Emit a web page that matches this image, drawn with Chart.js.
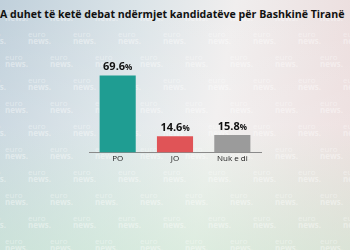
<!DOCTYPE html>
<html><head><meta charset="utf-8">
<script src="https://cdn.jsdelivr.net/npm/chart.js@4/dist/chart.umd.min.js"></script>
<style>
html,body{margin:0;padding:0;}
body{width:350px;height:250px;overflow:hidden;position:relative;
background:linear-gradient(100deg,#c0d0db 0%,#dbe4e8 35%,#f0eeee 60%,#ebdada 100%);}
#bg2{position:absolute;left:0;top:0;width:350px;height:250px;
background:linear-gradient(180deg,rgba(255,255,255,0) 0%,rgba(255,255,255,0.15) 50%,rgba(205,235,212,0.55) 100%);}
#wm{position:absolute;left:0;top:0;width:350px;height:250px;}
.w{position:absolute;font-family:"Open Sans",sans-serif;color:rgba(255,255,255,0.4);font-size:8px;line-height:7px;}
.w b{font-weight:700;}
#title{position:absolute;left:0;top:7px;white-space:nowrap;font-family:"Open Sans","DejaVu Sans",sans-serif;font-weight:700;font-size:10.6px;color:#111;}
#wrap{position:absolute;left:0;top:0;width:350px;height:250px;}
</style></head>
<body>
<div id="bg2"></div>
<div id="wm"></div>
<div id="title">A duhet të ketë debat ndërmjet kandidatëve për Bashkinë Tiranë</div>
<div id="wrap"><canvas id="c" width="350" height="250"></canvas></div>
<script>
const categories = ["PO", "JO", "Nuk e di"];
const values = [69.6, 14.6, 15.8];
const barColors = ["#1f9d92", "#e05457", "#9b9b9b"];

// decorative watermark
(function(){
  const wm = document.getElementById('wm');
  let html = '';
  for (let r = 0; r < 11; r++) {
    const y = 7 + r * 23;
    const off = (r % 2) ? 0 : 22;
    for (let x = -17 + off; x < 360; x += 45) {
      html += '<div class="w" style="left:' + x + 'px;top:' + y + 'px">euro<br><b>news.</b></div>';
    }
  }
  wm.innerHTML = html;
})();

const labelPlugin = {
  id: 'valLabels',
  afterDatasetsDraw(chart) {
    const ctx = chart.ctx;
    const meta = chart.getDatasetMeta(0);
    meta.data.forEach((bar, i) => {
      const num = values[i].toFixed(1);
      ctx.save();
      ctx.fillStyle = '#111';
      ctx.textBaseline = 'alphabetic';
      ctx.font = 'bold 11px "Open Sans", sans-serif';
      const w1 = ctx.measureText(num).width;
      ctx.font = 'bold 8px "Open Sans", sans-serif';
      const w2 = ctx.measureText('%').width;
      const x0 = bar.x - (w1 + w2) / 2;
      const y = bar.y - 5;
      ctx.font = 'bold 11px "Open Sans", sans-serif';
      ctx.fillText(num, x0, y);
      ctx.font = 'bold 8px "Open Sans", sans-serif';
      ctx.fillText('%', x0 + w1, y);
      ctx.restore();
    });
  }
};

new Chart(document.getElementById('c'), {
  type: 'bar',
  data: {
    labels: categories,
    datasets: [{ data: values, backgroundColor: barColors, borderWidth: 0,
      categoryPercentage: 1.0, barPercentage: 0.63 }]
  },
  options: {
    responsive: false,
    animation: false,
    layout: { padding: { left: 89, right: 89, top: 64, bottom: 84 } },
    plugins: { legend: { display: false }, tooltip: { enabled: false } },
    scales: {
      x: {
        grid: { display: false, drawTicks: false },
        border: { display: true, color: '#8a8a8a', width: 1 },
        ticks: { color: '#222', font: { family: '"Open Sans", sans-serif', size: 8 }, padding: 2 }
      },
      y: { display: false, min: 0, max: 80 }
    }
  },
  plugins: [labelPlugin]
});
</script>
</body></html>
